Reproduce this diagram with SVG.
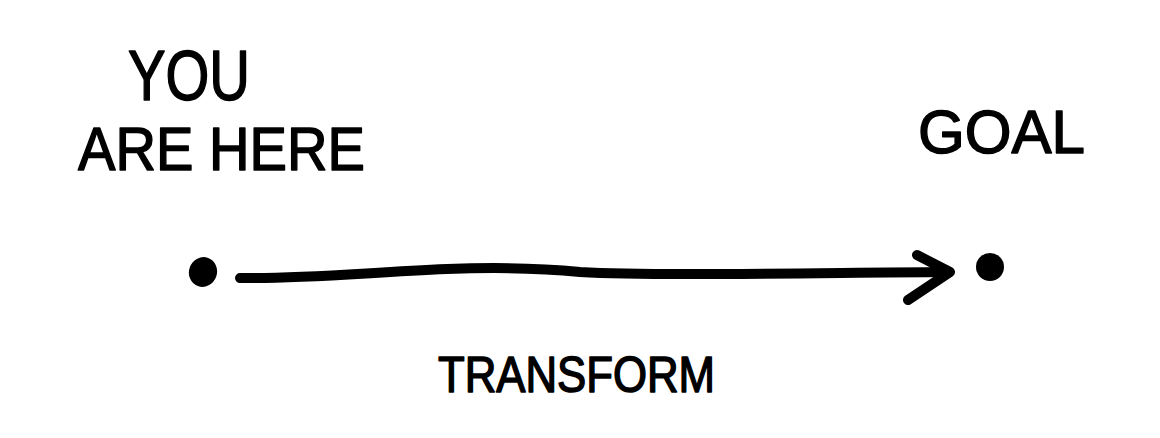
<svg xmlns="http://www.w3.org/2000/svg" width="1160" height="438" viewBox="0 0 1160 438">
<style>
.lbl{font-family:"Liberation Sans",Arial,sans-serif;fill:#000;stroke:#000;stroke-width:1.5;stroke-linejoin:round}
.dot{fill:#000}
.ink{fill:none;stroke:#000;stroke-width:10;stroke-linecap:round;stroke-linejoin:round}
</style>
<rect width="1160" height="438" fill="#fff"/>
<g id="start">
<ellipse class="dot" cx="203" cy="272" rx="14" ry="15" transform="rotate(20 203 272)"/>
<text class="lbl" x="128" y="100" font-size="70" textLength="122" lengthAdjust="spacingAndGlyphs">YOU</text>
<text class="lbl" x="78" y="170" font-size="62" textLength="287" lengthAdjust="spacingAndGlyphs">ARE HERE</text>
</g>
<g id="goal">
<circle class="dot" cx="990" cy="267" r="14"/>
<text class="lbl" x="918" y="153" font-size="62" textLength="167" lengthAdjust="spacingAndGlyphs">GOAL</text>
</g>
<g id="connectors">
<path class="ink" d="M240 278 C300 279 360 273 447 269 C500 267 540 268 580 272 C650 276 800 273 945 272"/>
<path class="ink" d="M917 255 L950 272 L908 300"/>
<text class="lbl" x="438" y="392" font-size="50" textLength="277" lengthAdjust="spacingAndGlyphs">TRANSFORM</text>
</g>
</svg>
